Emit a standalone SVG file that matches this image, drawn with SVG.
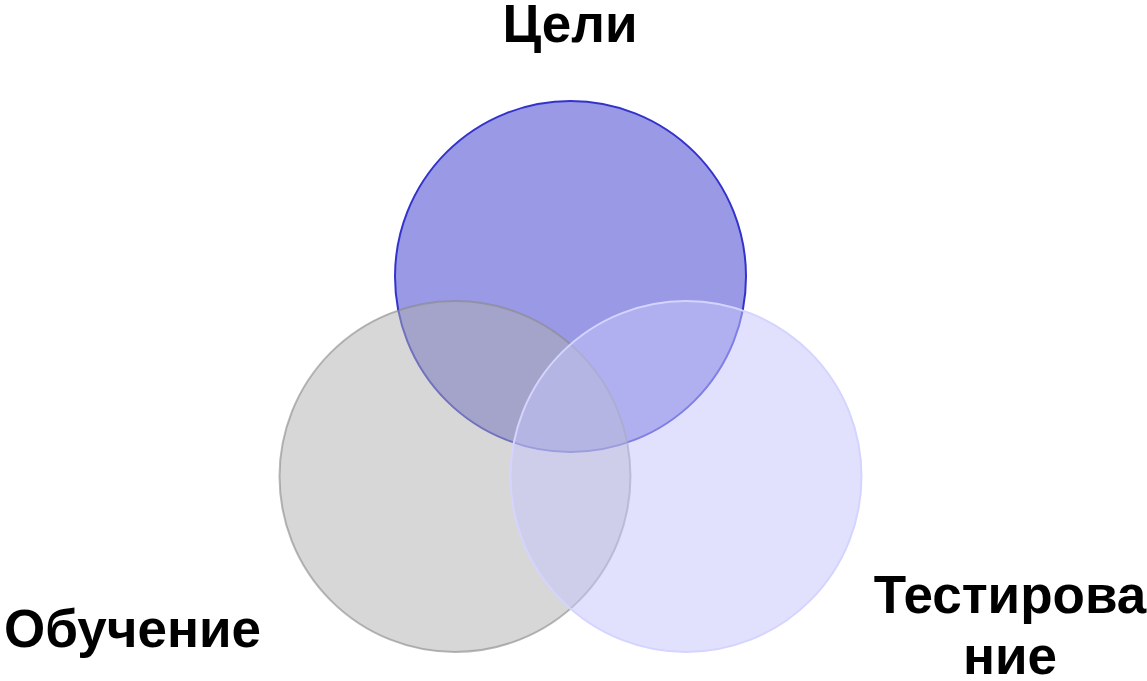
<svg xmlns="http://www.w3.org/2000/svg" width="1147" height="681" viewBox="0 0 1147 681">
<style>
.lbl{font-family:"Liberation Sans",Arial,sans-serif;font-weight:bold;font-size:53px;fill:#000}
</style>
<rect width="1147" height="681" fill="#fff"/>
<g id="node-goals">
<circle cx="570.5" cy="276.5" r="175.5" fill="#9999e5" stroke="#3333cc" stroke-width="2"/>
</g>
<g id="node-learning">
<circle cx="455" cy="476.5" r="175.5" fill="#b0b0b0" fill-opacity="0.5" stroke="#888888" stroke-opacity="0.6" stroke-width="2"/>
</g>
<g id="node-testing">
<circle cx="686" cy="476.5" r="175.5" fill="#c6c6fc" fill-opacity="0.52" stroke="#d4d4ff" stroke-width="2"/>
</g>
<g id="labels">
<text class="lbl" x="570" y="42" text-anchor="middle">Цели</text>
<text class="lbl" x="4" y="647">Обучение</text>
<text class="lbl" x="1010" y="613" text-anchor="middle">Тестирова</text>
<text class="lbl" x="1010" y="674" text-anchor="middle">ние</text>
</g>
<g id="connectors"/>
</svg>
